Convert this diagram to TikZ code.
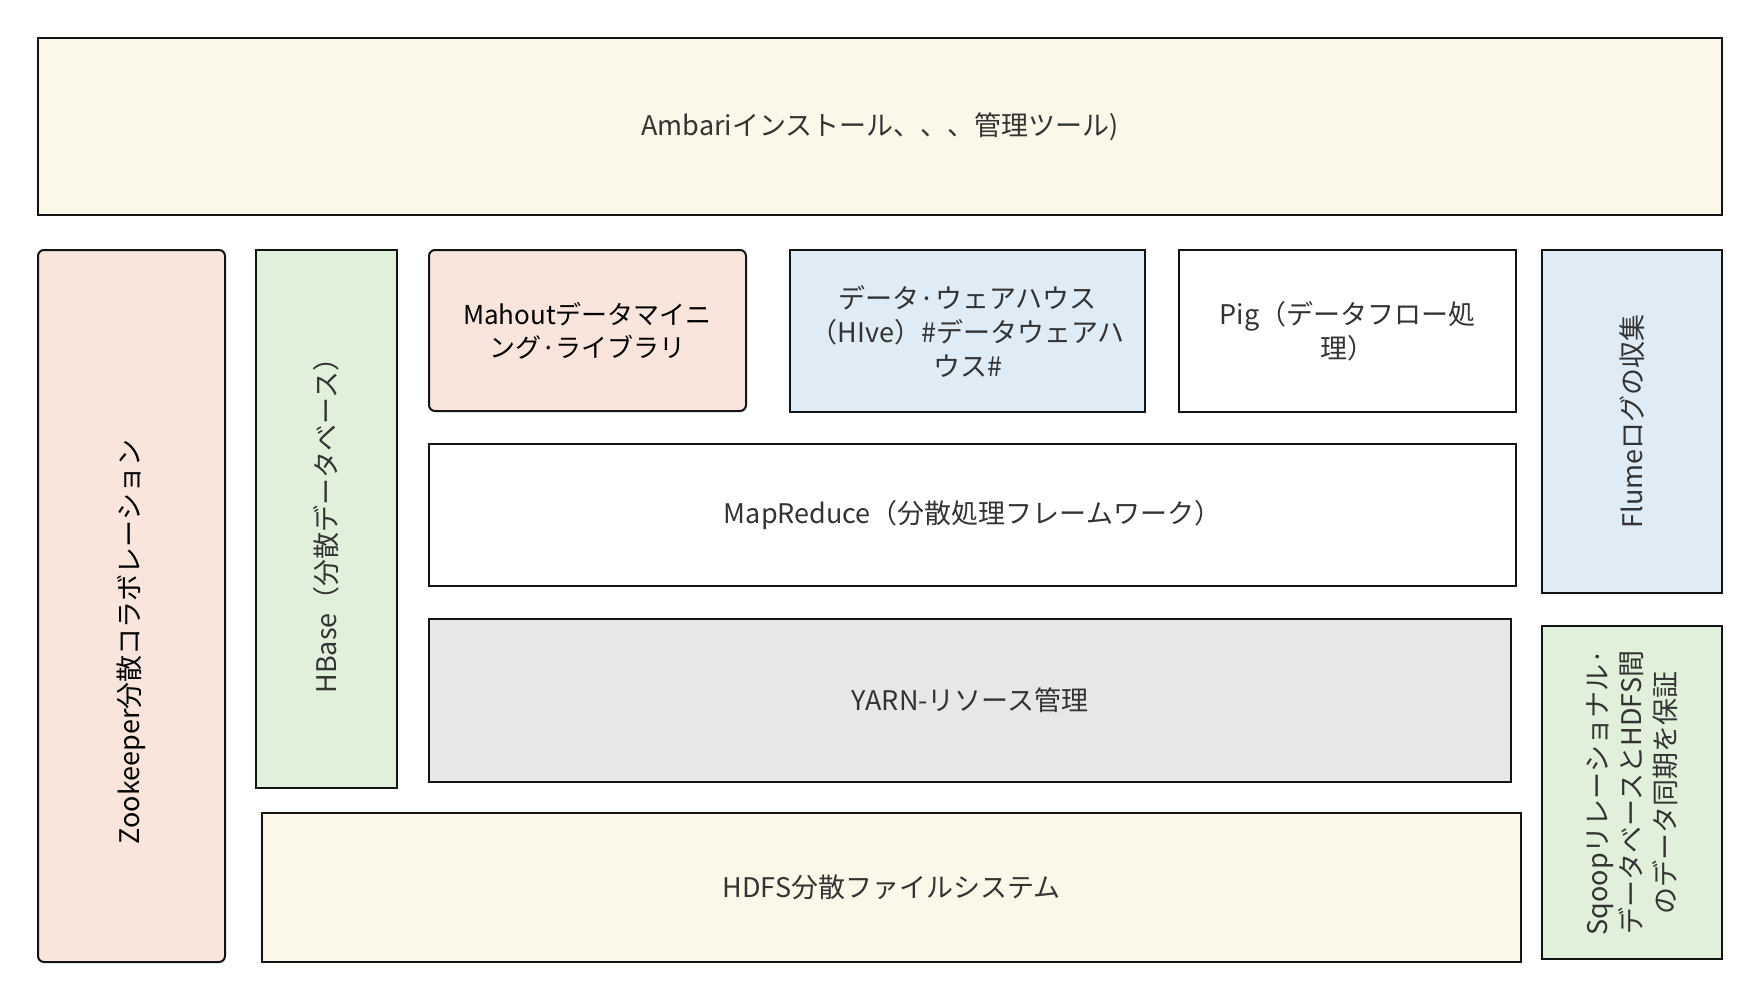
\documentclass[tikz,border=0pt]{standalone}
\usepackage{fontspec}
\setmainfont{Noto Sans CJK JP}
\usetikzlibrary{positioning}
\definecolor{ink}{RGB}{20,20,20}
\definecolor{txt}{RGB}{51,51,51}
\definecolor{cream}{RGB}{252,248,233}
\definecolor{peach}{RGB}{249,229,219}
\definecolor{mint}{RGB}{224,240,219}
\definecolor{sky}{RGB}{223,235,245}
\definecolor{mist}{RGB}{231,231,231}
\tikzset{
  layer/.style={draw=ink,line width=2pt,fill=#1,text=txt,align=center,inner sep=0pt,
    font=\fontsize{27}{34}\selectfont},
  layer/.default=white,
  soft/.style={rounded corners=6pt},
  side/.style={rotate=90},
}
\begin{document}
\begin{tikzpicture}[x=1pt,y=-1pt]
        \useasboundingbox (0,0) rectangle (1759,999);
        % top bar
        \node[layer=cream,minimum width=1684pt,minimum height=177pt] (ambari) at (880,126.5) {Ambariインストール、、、管理ツール)};
        % side columns
        \node[layer=peach,soft,side,text=black,align=left,text width=476pt,minimum width=712pt,minimum height=187pt] (zoo) at (131.5,606) {Zookeeper分散コラボレーション};
        \node[layer=mint,side,minimum width=538pt,minimum height=141pt] (hbase) at (326.5,519) {HBase（分散データベース）};
        \node[layer=sky,side,minimum width=343pt,minimum height=180pt] (flume) at (1632,421.5) {Flumeログの収集};
        \node[layer=mint,side,minimum width=333pt,minimum height=180pt] (sqoop) at (1632,792.5) {Sqoopリレーショナル·\\データベースとHDFS間\\のデータ同期を保証};
        % tools row
        \node[layer=peach,soft,text=black,minimum width=317pt,minimum height=161pt,font=\fontsize{26}{33}\selectfont] (mahout) at (587.5,330.5) {Mahoutデータマイニ\\ング·ライブラリ};
        \node[layer=sky,minimum width=355pt,minimum height=162pt] (hive) at (967.5,331) {データ·ウェアハウス\\（HIve）\#データウェアハ\\ウス\#};
        \node[layer,minimum width=337pt,minimum height=162pt] (pig) at (1347.5,331) {Pig（データフロー処\\理）};
        % core stack
        \node[layer,minimum width=1087pt,minimum height=142pt] (mapred) at (972.5,515) {MapReduce（分散処理フレームワーク）};
        \node[layer=mist,minimum width=1082pt,minimum height=163pt] (yarn) at (970,700.5) {YARN-リソース管理};
        \node[layer=cream,minimum width=1259pt,minimum height=149pt] (hdfs) at (891.5,887.5) {HDFS分散ファイルシステム};
      \end{tikzpicture}
\end{document}
